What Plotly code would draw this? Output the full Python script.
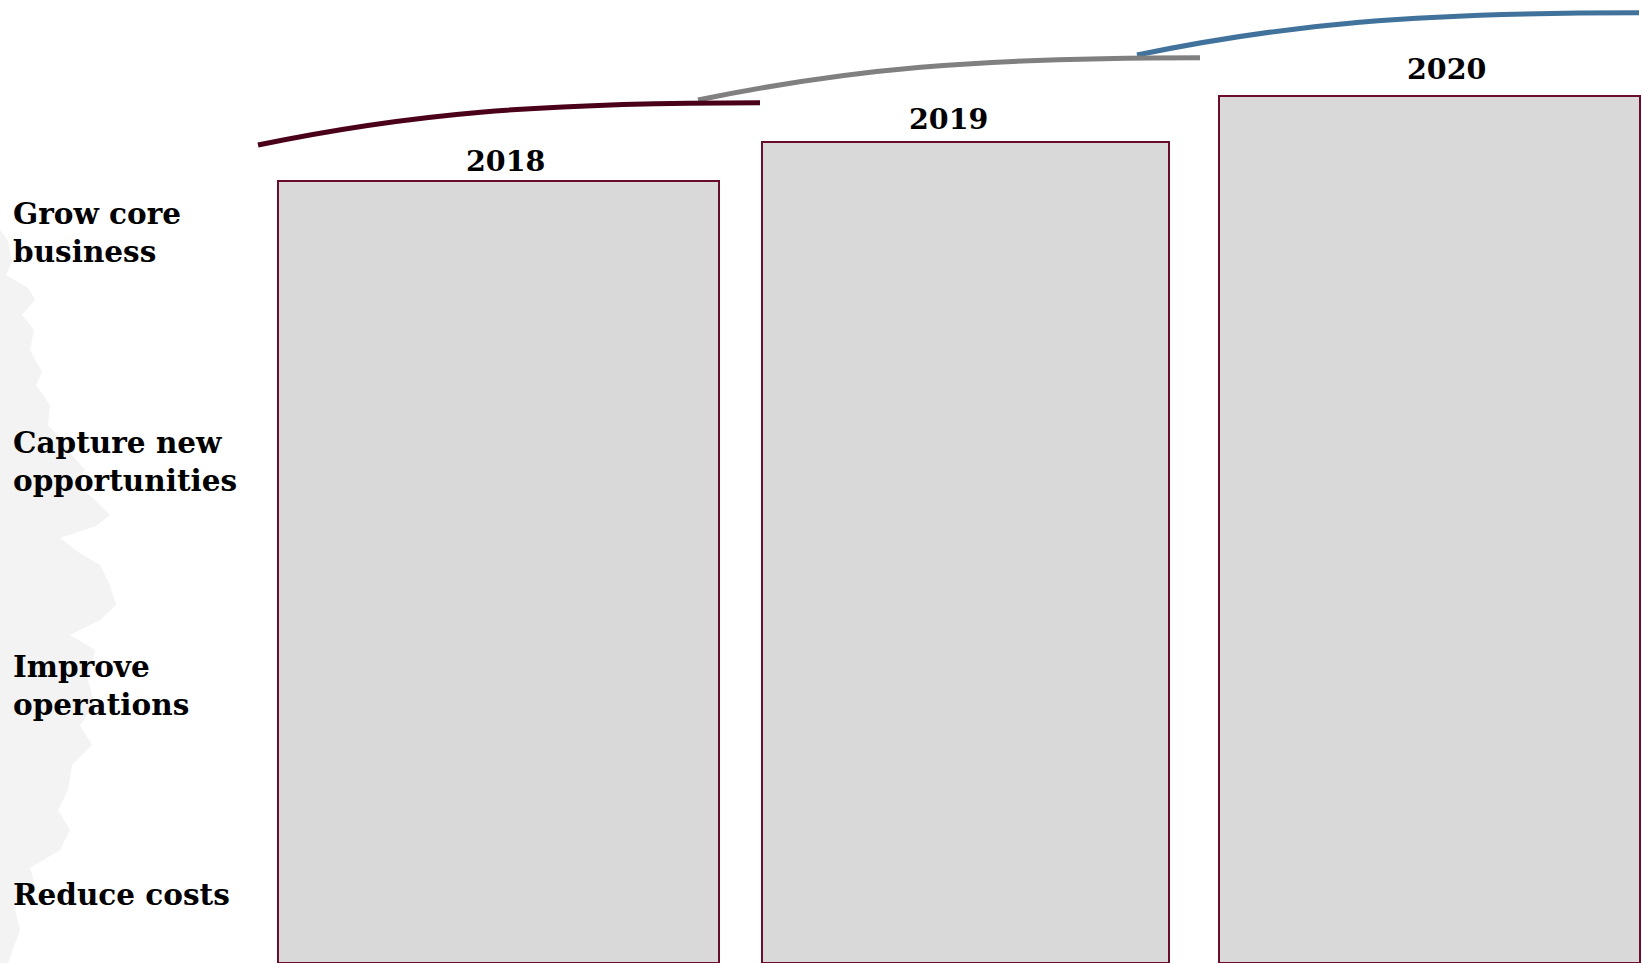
import plotly.graph_objects as go

# ---------------- data ----------------
years = ["2018", "2019", "2020"]
# bar heights in axis units (0 = bottom edge of the view, bars continue below it)
bar_values = [782, 821, 867]
priorities = [
    "Grow core<br>business",
    "Capture new<br>opportunities",
    "Improve<br>operations",
    "Reduce costs",
]

# ---------------- layout constants (pixels) ----------------
W, H = 1642, 963
bar_left = [277.5, 762.0, 1218.5]
bar_right = [719.0, 1169.0, 1639.5]
bar_centers = [(l + r) / 2 for l, r in zip(bar_left, bar_right)]
bar_widths = [r - l for l, r in zip(bar_left, bar_right)]

year_label_x = [505, 948, 1446]
year_label_y = [161, 119, 69]

priority_x = 10.5
priority_y = [232.5, 461.5, 685.5, 894.0]

arc_starts = [(1137, 55), (698, 100), (258, 145)]   # drawn blue, grey, maroon (maroon on top)
arc_colors = ["#41729b", "#808080", "#4a0019"]
arc_span, arc_rise = 502, 42.3

FONT = "DejaVu Serif"
BAR_FILL = "#d9d9d9"
BAR_LINE = "#6a0d2c"


def yd(py):
    """pixel y (from top) -> axis units"""
    return H - py


fig = go.Figure()

fig.add_trace(go.Bar(
    x=bar_centers,
    y=bar_values,
    width=bar_widths,
    marker=dict(color=BAR_FILL, line=dict(color=BAR_LINE, width=2)),
    hoverinfo="skip",
    showlegend=False,
))

shapes = []

# faint decorative silhouette on the left
sil = [(0, 230), (8, 240), (12, 262), (6, 275), (28, 288), (35, 300), (22, 315), (34, 330),
       (30, 350), (42, 372), (36, 385), (50, 405), (48, 425), (62, 440), (72, 455), (85, 470),
       (78, 485), (95, 500), (110, 515), (96, 526), (60, 538), (78, 552), (100, 565),
       (110, 585), (116, 605), (100, 620), (70, 635), (95, 650), (88, 680), (95, 705),
       (80, 725), (92, 745), (72, 765), (68, 790), (58, 810), (70, 830), (60, 850),
       (30, 868), (35, 885), (14, 905), (20, 930), (8, 963), (0, 963)]
path = "M " + " L ".join(f"{x},{yd(y)}" for x, y in sil) + " Z"
shapes.append(dict(type="path", path=path, xref="x", yref="y", layer="below",
                   fillcolor="#f3f3f3", line=dict(width=0)))

# arcs (rise quickly on the left, flatten to the right)
for (x0, y0), col in zip(arc_starts, arc_colors):
    x3, y3 = x0 + arc_span, y0 - arc_rise
    c1 = (x0 + 0.30 * arc_span, y3 + 0.265 * arc_rise)
    c2 = (x0 + 0.55 * arc_span, y3)
    p = (f"M {x0},{yd(y0)} C {c1[0]},{yd(c1[1])} {c2[0]},{yd(c2[1])} "
         f"{x3},{yd(y3)}")
    shapes.append(dict(type="path", path=p, xref="x", yref="y", layer="above",
                       line=dict(color=col, width=5)))

annotations = []
for yr, x, y in zip(years, year_label_x, year_label_y):
    annotations.append(dict(text=f"<b>{yr}</b>", x=x, y=yd(y), xref="x", yref="y",
                            xanchor="center", yanchor="middle", showarrow=False,
                            font=dict(family=FONT, size=28.5, color="#000000")))
for txt, y in zip(priorities, priority_y):
    annotations.append(dict(text=f"<b>{txt}</b>", x=priority_x, y=yd(y), xref="x", yref="y",
                            xanchor="left", yanchor="middle", align="left", showarrow=False,
                            font=dict(family=FONT, size=29.5, color="#000000")))

fig.update_layout(
    width=W, height=H,
    margin=dict(l=0, r=0, t=0, b=0),
    paper_bgcolor="white", plot_bgcolor="white",
    xaxis=dict(range=[0, W], visible=False, fixedrange=True),
    yaxis=dict(range=[0, H], visible=False, fixedrange=True),
    shapes=shapes,
    annotations=annotations,
    bargap=0,
)

fig.write_html("out.html", config={"displayModeBar": False})
